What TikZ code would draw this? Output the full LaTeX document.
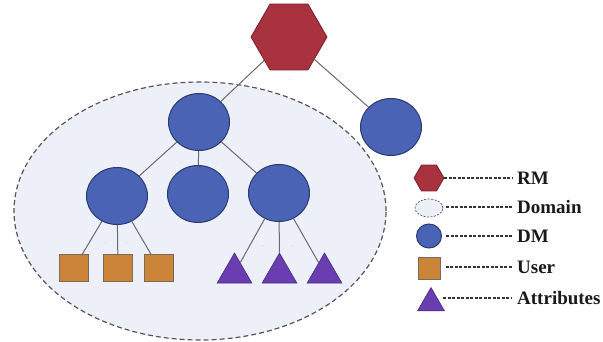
\documentclass[tikz,border=0pt]{standalone}
\usepackage{fontspec}
\setmainfont{Liberation Serif}
\usetikzlibrary{shapes.geometric}
\definecolor{hexfill}{HTML}{A8323E}
\definecolor{hexdraw}{HTML}{7A2030}
\definecolor{dmfill}{HTML}{4A63B5}
\definecolor{dmdraw}{HTML}{2A3A6E}
\definecolor{userfill}{HTML}{CC8438}
\definecolor{userdraw}{HTML}{7A6A55}
\definecolor{attrfill}{HTML}{6A3DB0}
\definecolor{attrdraw}{HTML}{4A2A80}
\definecolor{domfill}{HTML}{EDF0F8}
\definecolor{domdraw}{HTML}{555555}
\definecolor{edgecol}{HTML}{6A6A6A}
\tikzset{
  rmnode/.style={regular polygon, regular polygon sides=6, fill=hexfill, draw=hexdraw, line width=0.8pt, inner sep=0pt},
  dmnode/.style={ellipse, fill=dmfill, draw=dmdraw, line width=1pt, inner sep=0pt, minimum width=61pt, minimum height=57pt},
  usernode/.style={rectangle, fill=userfill, draw=userdraw, line width=1pt, inner sep=0pt, minimum width=29pt, minimum height=27pt},
  attrnode/.style={regular polygon, regular polygon sides=3, fill=attrfill, draw=attrdraw, line width=0.6pt, inner sep=0pt, minimum size=40pt},
  domnode/.style={ellipse, fill=domfill, draw=domdraw, dash pattern=on 5pt off 3pt, line width=1.2pt, inner sep=0pt},
  link/.style={draw=edgecol, line width=1pt},
  dots/.style={text=gray!70, font=\fontsize{4}{4}\selectfont, inner sep=0pt},
  legtext/.style={anchor=west, font=\fontsize{19}{19}\selectfont\bfseries, inner sep=0pt, text=black!90},
  legdash/.style={draw=black!80, line width=1.6pt, dash pattern=on 3pt off 1.5pt}
}
\begin{document}
\begin{tikzpicture}[x=1pt, y=-1pt]
\useasboundingbox (0,0) rectangle (603,341);
% domain
\node[domnode, minimum width=372pt, minimum height=258pt] (dom) at (200,211) {};
% tree nodes
\node[rmnode, minimum size=76pt] (rm) at (289,37) {};
\node[dmnode] (dm0) at (199,122) {};
\node[dmnode] (dmr) at (391,127) {};
\node[dmnode] (dm1) at (117,196) {};
\node[dmnode] (dm2) at (198,194) {};
\node[dmnode] (dm3) at (279,193) {};
\node[usernode] (u1) at (74,268) {};
\node[usernode] (u2) at (118,268) {};
\node[usernode] (u3) at (159,268) {};
\node[attrnode] (a1) at (234.5,273) {};
\node[attrnode] (a2) at (279.5,273) {};
\node[attrnode] (a3) at (324.5,273) {};
% edges
\path[link] (rm) -- (dm0);
\path[link] (rm) -- (dmr);
\path[link] (dm0) -- (dm1);
\path[link] (dm0) -- (dm2);
\path[link] (dm0) -- (dm3);
\path[link] (dm1) -- (u1);
\path[link] (dm1) -- (u2);
\path[link] (dm1) -- (u3);
\path[link] (dm3) -- (a1);
\path[link] (dm3) -- (a2);
\path[link] (dm3) -- (a3);
% small marks
\node[dots] (d0) at (290,80) {...};
\node[dots] (d1) at (181,163) {...};
\node[dots] (d2) at (217,163) {...};
\node[dots] (d3) at (106,243) {...};
\node[dots] (d4) at (126,243) {...};
\node[dots] (d5) at (263,246) {...};
\node[dots] (d6) at (293,246) {...};
% legend
\node[rmnode, minimum size=30pt] (lrm) at (429,178) {};
\node[domnode, minimum width=28pt, minimum height=18pt, dash pattern=on 2pt off 1.5pt, line width=0.7pt] (ldom) at (429,208) {};
\node[dmnode, minimum width=25pt, minimum height=24pt] (ldm) at (429,236) {};
\node[usernode, minimum width=22pt, minimum height=22pt] (luser) at (429,268) {};
\node[attrnode, minimum size=31pt] (lattr) at (431,303) {};
\node[legtext] (t1) at (517,178) {RM};
\node[legtext] (t2) at (517,207) {Domain};
\node[legtext] (t3) at (517,236) {DM};
\node[legtext] (t4) at (517,267) {User};
\node[legtext] (t5) at (517,298) {Attributes};
\draw[legdash] (lrm.east) -- ([xshift=-5pt]t1.west);
\draw[legdash] ([xshift=3pt]ldom.east |- t2.west) -- ([xshift=-5pt]t2.west);
\draw[legdash] ([xshift=4pt]ldm.east |- t3.west) -- ([xshift=-5pt]t3.west);
\draw[legdash] ([xshift=5pt]luser.east |- t4.west) -- ([xshift=-5pt]t4.west);
\draw[legdash] ([xshift=3pt]lattr.east |- t5.west) -- ([xshift=-5pt]t5.west);
\end{tikzpicture}
\end{document}
